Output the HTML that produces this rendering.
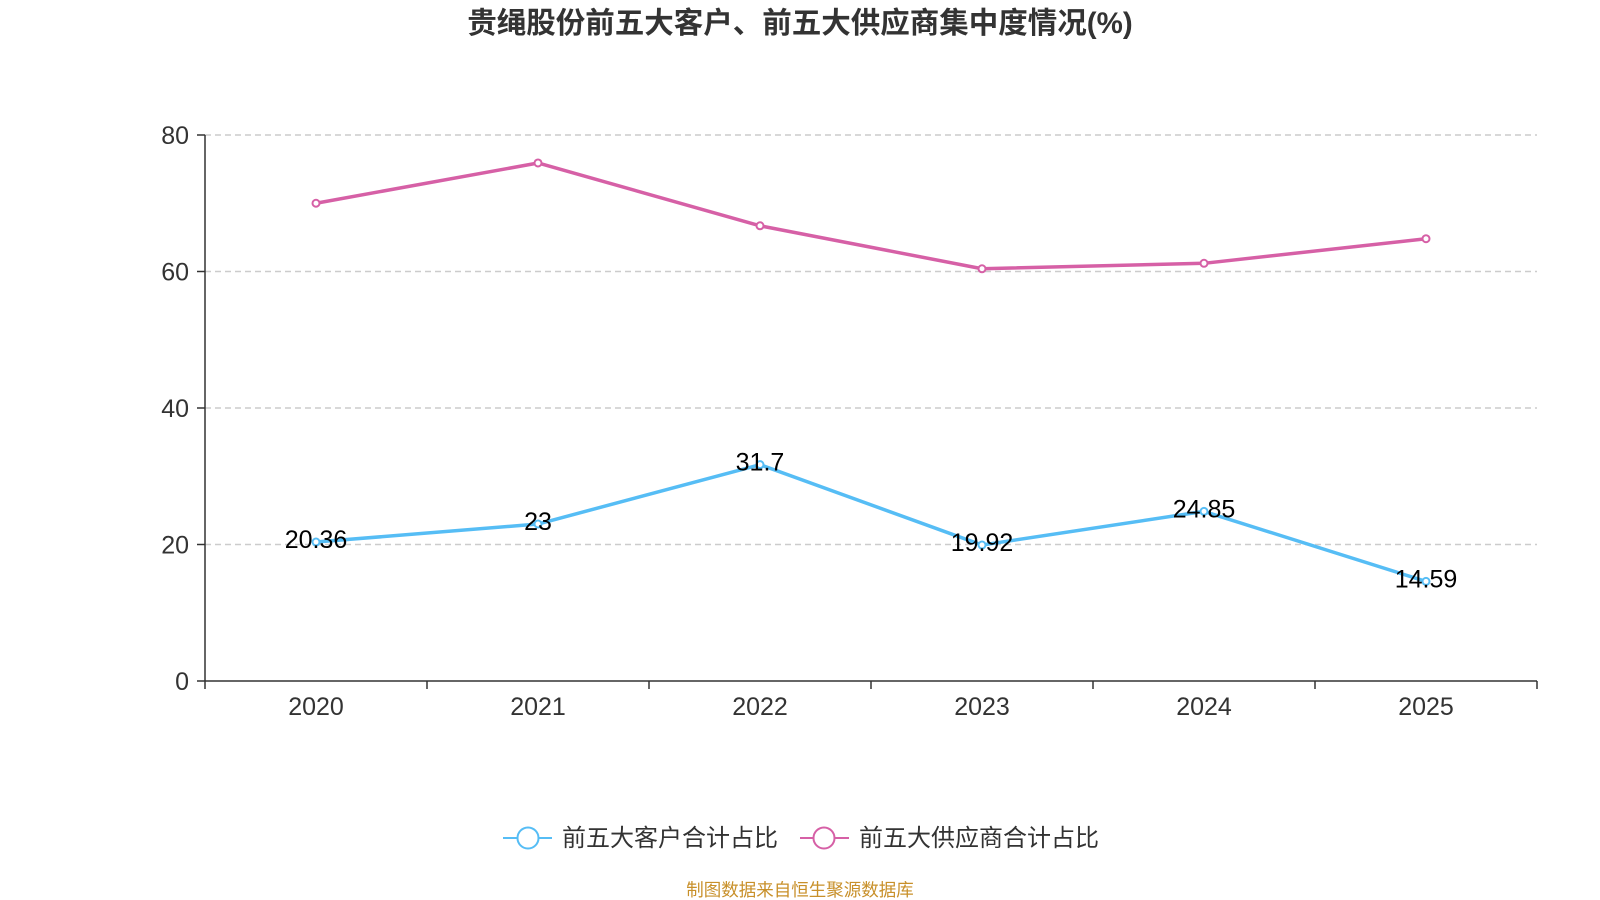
<!DOCTYPE html>
<html><head><meta charset="utf-8">
<style>
body{margin:0;background:#fff;}
svg{display:block;font-family:"Liberation Sans","Noto Sans CJK SC",sans-serif;}
</style></head>
<body>
<svg id="chart" width="1600" height="900">
<text x="800" y="33" text-anchor="middle" font-size="29.5" font-weight="bold" fill="#333">贵绳股份前五大客户、前五大供应商集中度情况(%)</text>
<g id="grid"></g><g id="axes"></g><g id="series"></g><g id="labels"></g>
<g>
<g>
<line x1="503" y1="838" x2="552" y2="838" stroke="#56bdf5" stroke-width="2"/>
<circle cx="528" cy="838" r="10.5" fill="#fff" stroke="#56bdf5" stroke-width="2"/>
<text x="562" y="846" font-size="24" fill="#333">前五大客户合计占比</text></g>
<g>
<line x1="800" y1="838" x2="849" y2="838" stroke="#d660a6" stroke-width="2"/>
<circle cx="824" cy="838" r="10.5" fill="#fff" stroke="#d660a6" stroke-width="2"/>
<text x="859" y="846" font-size="24" fill="#333">前五大供应商合计占比</text></g>
</g>
<text x="800" y="896" text-anchor="middle" font-size="17.5" fill="#c8902a">制图数据来自恒生聚源数据库</text>
</svg>
<script>
const categories=["2020","2021","2022","2023","2024","2025"];
const customerValues=[20.36,23,31.7,19.92,24.85,14.59];
const supplierValues=[70.0,75.9,66.7,60.4,61.2,64.8];
const customerLabels=["20.36","23","31.7","19.92","24.85","14.59"];
const yTicks=[0,20,40,60,80];
const NS="http://www.w3.org/2000/svg";
const X0=205,X1=1537,Y0=681,Y1=135,YMAX=80;
const band=(X1-X0)/categories.length;
const xs=i=>X0+band*(i+0.5);
const ys=v=>Y0-(v/YMAX)*(Y0-Y1);
function mk(tag,attrs,parent){const e=document.createElementNS(NS,tag);for(const k in attrs)e.setAttribute(k,attrs[k]);document.getElementById(parent).appendChild(e);return e;}
yTicks.forEach(t=>{
 if(t>0){const g=mk('line',{x1:X0,x2:X1,y1:ys(t),y2:ys(t),stroke:'#ccc','stroke-dasharray':'6,4','stroke-width':1.5},'grid');
 
 }
 const tk=mk('line',{x1:X0-8,x2:X0,y1:ys(t),y2:ys(t),stroke:'#333','stroke-width':1.5},'axes');
 
 
 const tl=mk('text',{x:X0-16,y:ys(t)+9,'text-anchor':'end','font-size':25,fill:'#333'},'axes');tl.textContent=t;
 
 
});
const ya=mk('line',{x1:X0,x2:X0,y1:Y1,y2:Y0,stroke:'#333','stroke-width':1.5},'axes');


const xa=mk('line',{x1:X0,x2:X1,y1:Y0,y2:Y0,stroke:'#333','stroke-width':1.5},'axes');


for(let i=0;i<=categories.length;i++){const x=X0+band*i;
 const t=mk('line',{x1:x,x2:x,y1:Y0,y2:Y0+8,stroke:'#333','stroke-width':1.5},'axes');
 
 }
categories.forEach((c,i)=>{const t=mk('text',{x:xs(i),y:Y0+34,'text-anchor':'middle','font-size':25,fill:'#333'},'axes');t.textContent=c;
 
 });
function series(vals,color,name){
 const p=mk('polyline',{points:vals.map((v,i)=>xs(i)+','+ys(v)).join(' '),fill:'none',stroke:color,'stroke-width':3.5,'stroke-linejoin':'round'},'series');
 
 
 vals.forEach((v,i)=>{const c=mk('circle',{cx:xs(i),cy:ys(v),r:3.5,fill:'#fff',stroke:color,'stroke-width':2},'series');
 
 });
}
series(customerValues,'#56bdf5','customers');
series(supplierValues,'#d660a6','suppliers');
customerValues.forEach((v,i)=>{const t=mk('text',{x:xs(i),y:ys(v)+6,'text-anchor':'middle','font-size':25,fill:'#000'},'labels');t.textContent=customerLabels[i];
 
 });
</script>
</body></html>
